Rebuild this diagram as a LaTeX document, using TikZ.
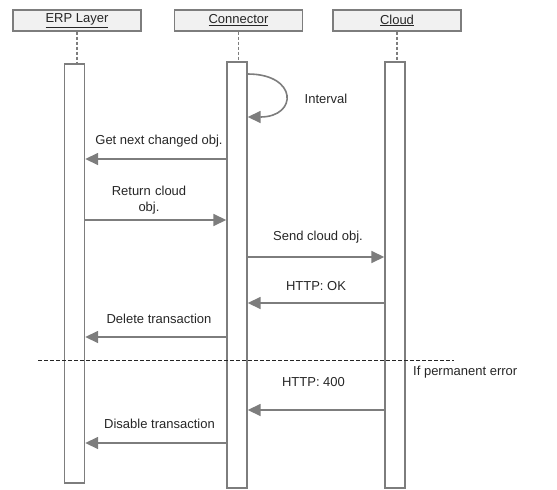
\documentclass[tikz,border=0pt]{standalone}
\usepackage{fontspec}
\setmainfont{Liberation Sans}
\usetikzlibrary{arrows.meta}
\definecolor{ln}{HTML}{7D7D7D}
\definecolor{hd}{HTML}{F1F1F1}
\definecolor{tx}{HTML}{262626}
\tikzset{
  x=1pt,y=1pt,
  header/.style={draw=ln,line width=1.3pt,fill=hd,minimum width=128pt,minimum height=21pt,inner sep=0pt,font=\fontsize{13}{15}\selectfont,text=tx},
  actbox/.style={draw=ln,line width=1.4pt,fill=white,minimum width=20pt,inner sep=0pt},
  life/.style={draw=ln,line width=1.3pt,dash pattern=on 3pt off 2pt},
  msg/.style={draw=ln,line width=1.6pt,-{Triangle[length=13pt,width=12pt,fill=ln]}},
  lbl/.style={font=\fontsize{13}{16.5}\selectfont,text=tx,inner sep=0pt,align=center},
}
\begin{document}
\begin{tikzpicture}
\useasboundingbox (0,0) rectangle (557,-490);
% headers
\node[header] (erpH) at (77,-20.5) {\underline{ERP Layer}};
\node[header] (conH) at (238.5,-20.5) {\underline{Connector}};
\node[header] (cldH) at (397,-20.5) {\underline{Cloud}};
% activation boxes
\node[actbox,minimum height=419pt] (erpA) at (74.5,-273.5) {};
\node[actbox,minimum height=426pt] (conA) at (237,-275) {};
\node[actbox,minimum height=426pt] (cldA) at (395,-275) {};
% lifelines
\draw[life] (erpH.south) -- (erpH.south |- erpA.north);
\draw[life] (conH.south) -- (conH.south |- conA.north);
\draw[life] (cldH.south) -- (cldH.south |- cldA.north);
% message y positions
\coordinate (s1) at (0,-74);
\coordinate (s2) at (0,-117);
\coordinate (m1) at (0,-159);
\coordinate (m2) at (0,-220);
\coordinate (m3) at (0,-257);
\coordinate (m4) at (0,-303);
\coordinate (m5) at (0,-337);
\coordinate (m6) at (0,-410);
\coordinate (m7) at (0,-443);
% self loop
\draw[msg] (conA.east |- s1) .. controls (298,-74) and (298,-117) .. (conA.east |- s2);
\node[lbl] (lInt) at (326,-99) {Interval};
% messages
\draw[msg] (conA.west |- m1) -- (erpA.east |- m1);
\node[lbl] (l1) at (159,-141) {Get next changed obj.};
\draw[msg] (erpA.east |- m2) -- (conA.west |- m2);
\node[lbl,text width=90pt] (l2) at (149,-200) {Return cloud\\obj.};
\draw[msg] (conA.east |- m3) -- (cldA.west |- m3);
\node[lbl] (l3) at (318,-237) {Send cloud obj.};
\draw[msg] (cldA.west |- m4) -- (conA.east |- m4);
\node[lbl] (l4) at (316,-286) {HTTP: OK};
\draw[msg] (conA.west |- m5) -- (erpA.east |- m5);
\node[lbl] (l5) at (159,-319) {Delete transaction};
% separator
\coordinate (d1) at (38,-360);
\coordinate (d2) at (454,-360);
\draw[draw=tx,line width=1pt,dash pattern=on 3.5pt off 2.5pt] (d1) -- (d2);
\node[lbl,anchor=west] (lErr) at (413,-372) {If permanent error};
\draw[msg] (cldA.west |- m6) -- (conA.east |- m6);
\node[lbl] (l6) at (313.5,-382) {HTTP: 400};
\draw[msg] (conA.west |- m7) -- (erpA.east |- m7);
\node[lbl] (l7) at (159.5,-424) {Disable transaction};
\end{tikzpicture}
\end{document}
